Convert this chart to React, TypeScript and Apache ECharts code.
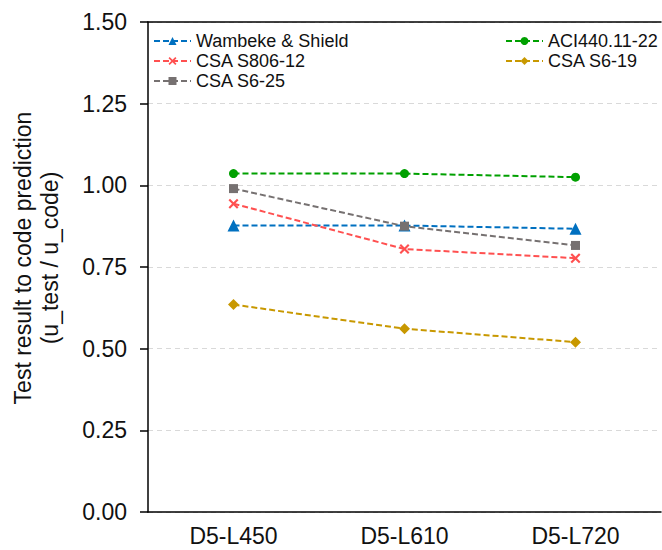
import React, { useEffect, useRef } from "react";
import * as echarts from "echarts";

const categories = ["D5-L450", "D5-L610", "D5-L720"];
const wambeke = [0.877, 0.877, 0.867];
const aci = [1.036, 1.036, 1.025];
const csaS806 = [0.944, 0.805, 0.777];
const csaS619 = [0.635, 0.561, 0.52];
const csaS625 = [0.99, 0.875, 0.816];
const yTicks = [0, 0.25, 0.5, 0.75, 1.0, 1.25, 1.5];

const FONT = "'Liberation Sans', Arial, sans-serif";
const XPATH = "path://M0,1.5L1.5,0L5,3.5L8.5,0L10,1.5L6.5,5L10,8.5L8.5,10L5,6.5L1.5,10L0,8.5L3.5,5Z";

function mk(name: string, data: number[], color: string, symbol: string, size: number) {
  return {
    name,
    type: "line",
    data,
    symbol,
    symbolSize: size,
    itemStyle: { color },
    lineStyle: { color, width: 2, type: [6, 3] },
  };
}

export default function App() {
  const ref = useRef<HTMLDivElement>(null);
  useEffect(() => {
    const chart = echarts.init(ref.current!, null, { renderer: "svg" });
    const legendCommon = {
      orient: "vertical",
      itemWidth: 37,
      itemHeight: 10,
      itemGap: 0,
      textStyle: { fontFamily: FONT, fontSize: 18, color: "#111", lineHeight: 20 },
      padding: 0,
    };
    chart.setOption({
      animation: false,
      backgroundColor: "#fff",
      grid: { left: 148, right: 1, top: 22, bottom: 38 },
      legend: [
        { ...legendCommon, left: 153, top: 31, data: ["Wambeke & Shield", "CSA S806-12", "CSA S6-25"] },
        { ...legendCommon, left: 505, top: 31, data: ["ACI440.11-22", "CSA S6-19"] },
      ],
      xAxis: [
        {
          type: "category",
          data: categories,
          boundaryGap: true,
          axisLine: { lineStyle: { color: "#000", width: 1.5 } },
          axisTick: { alignWithLabel: true, length: 6, lineStyle: { color: "#000", width: 1.5 } },
          axisLabel: { fontFamily: FONT, fontSize: 23, color: "#111", margin: 12 },
          splitLine: { show: false },
        },
        {
          type: "category",
          data: categories,
          position: "top",
          axisLine: { lineStyle: { color: "#000", width: 1.5 } },
          axisTick: { show: false },
          axisLabel: { show: false },
          splitLine: { show: false },
        },
      ],
      yAxis: {
        type: "value",
        min: yTicks[0],
        max: yTicks[yTicks.length - 1],
        interval: 0.25,
        axisLine: { show: true, lineStyle: { color: "#000", width: 1.5 } },
        axisTick: { show: true, length: 8, lineStyle: { color: "#000", width: 1.5 } },
        axisLabel: {
          fontFamily: FONT,
          fontSize: 23,
          color: "#111",
          margin: 21,
          formatter: (v: number) => v.toFixed(2),
        },
        splitLine: { show: true, lineStyle: { color: "#d9d9d9", type: [5, 4], width: 1 } },
      },
      graphic: [
        {
          type: "text",
          x: 36,
          y: 258,
          rotation: Math.PI / 2,
          style: {
            text: "Test result to code prediction\n(u_test / u_code)",
            fontFamily: FONT,
            fontSize: 23,
            lineHeight: 27,
            fill: "#111",
            align: "center",
            verticalAlign: "middle",
          },
        },
      ],
      series: [
        mk("Wambeke & Shield", wambeke, "#0070C0", "triangle", 12),
        mk("ACI440.11-22", aci, "#00A000", "circle", 9),
        mk("CSA S806-12", csaS806, "#FF5050", XPATH, 10),
        mk("CSA S6-19", csaS619, "#C89800", "diamond", 11),
        mk("CSA S6-25", csaS625, "#767171", "rect", 9),
      ],
    });
    return () => chart.dispose();
  }, []);
  return (
    <div
      ref={ref}
      style={{ position: "fixed", left: 0, top: 0, width: 662, height: 550 }}
    />
  );
}
